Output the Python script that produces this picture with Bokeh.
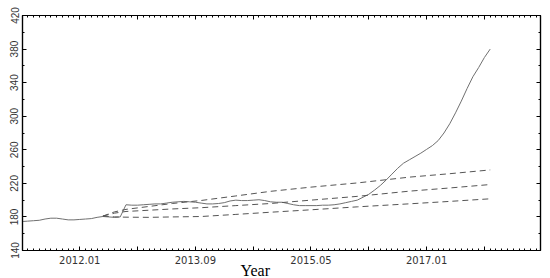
from bokeh.plotting import figure
from bokeh.models import Range1d, FixedTicker, LinearAxis, Title
from bokeh.embed import file_html
from bokeh.resources import INLINE

# month index: 0 = 2011.01
months = list(range(2, 84))
price = [174.5, 175, 175.5, 176, 177.5, 178.5, 178.5, 177.5, 176.5, 176.5,
         177, 177.5, 178, 179.5, 180.5, 180, 179.5, 180, 194.5, 194,
         194, 194.5, 195, 195.5, 195.5, 196.5, 197.5, 198, 198.5, 198,
         197.5, 196.5, 195.5, 195.5, 196, 197, 199, 200, 199.5, 199.5,
         200, 200.5, 199.5, 198, 197.5, 197.5, 196, 194.5, 193.5, 193.5,
         193.5, 193.5, 194, 194, 194.5, 195.5, 197, 198.5, 200, 203.5,
         207, 212, 217.5, 224, 231, 238, 244, 248, 252, 256,
         260.5, 265, 271, 280, 291, 304, 318, 333, 347, 358,
         370, 380]

fc_months = [16, 18, 20, 24, 28, 33, 39, 45, 52, 60, 69, 76, 83]
fc_upper = [181, 186, 189, 192.5, 196, 199.6, 205, 210.5, 215.5, 220.5, 227.4, 231.5, 236]
fc_mid = [181, 184.5, 186.5, 188, 189.5, 191, 193.5, 196, 200, 204.5, 210.7, 214.5, 218.6]
fc_lower = [181, 180, 179.7, 179.5, 180, 180.5, 183, 185.6, 188.5, 192, 195.6, 198.5, 201.6]

x_major = [2, 12, 22, 32, 42, 52, 62, 72, 82]
x_labels = {12: "2012.01", 32: "2013.09", 52: "2015.05", 72: "2017.01"}
y_major = [140, 180, 220, 260, 300, 340, 380, 420]

p = figure(width=550, height=278, output_backend="svg", toolbar_location=None,
           x_range=Range1d(2.1, 91.7), y_range=Range1d(140, 420),
           min_border_left=22, min_border_right=10, min_border_top=15, min_border_bottom=28,
           x_axis_location=None, y_axis_location=None)
p.background_fill_color = "white"
p.border_fill_color = "white"
p.outline_line_color = "black"
p.outline_line_width = 1.2
p.xgrid.visible = False
p.ygrid.visible = False

xt = FixedTicker(ticks=x_major, minor_ticks=list(range(2, 92)))
yt = FixedTicker(ticks=y_major, minor_ticks=list(range(140, 421, 20)))
overrides = {m: x_labels.get(m, "") for m in x_major}

def style(ax, labels):
    ax.axis_line_color = "black"
    ax.axis_line_width = 1.2
    ax.major_tick_in = 4
    ax.major_tick_out = 0
    ax.minor_tick_in = 2
    ax.minor_tick_out = 0
    ax.major_tick_line_color = "black"
    ax.minor_tick_line_color = "black"
    if not labels:
        ax.major_label_text_font_size = "0px"
        ax.major_label_standoff = 0

xb = LinearAxis(ticker=xt, major_label_overrides=overrides)
style(xb, True)
xb.major_label_text_font = "DejaVu Sans"
xb.major_label_text_font_size = "10px"
xb.major_label_text_color = "#333333"
xb.major_label_standoff = 5
p.add_layout(xb, "below")

xa = LinearAxis(ticker=xt, major_label_overrides={m: "" for m in x_major})
style(xa, False)
p.add_layout(xa, "above")

yl = LinearAxis(ticker=yt)
style(yl, True)
yl.major_label_orientation = "vertical"
yl.major_label_text_font = "Liberation Sans"
yl.major_label_text_font_size = "10px"
yl.major_label_text_color = "#333333"
yl.major_label_standoff = 4
p.add_layout(yl, "left")

yr = LinearAxis(ticker=yt, major_label_overrides={v: "" for v in y_major})
style(yr, False)
p.add_layout(yr, "right")

p.line(months, price, line_color="#707070", line_width=1)
for arr in (fc_upper, fc_mid, fc_lower):
    p.line(fc_months, arr, line_color="#555555", line_width=1, line_dash="6 4")

year_title = Title(text="Year", align="left", offset=218, standoff=-14,
                   text_font="Liberation Serif", text_font_size="16px",
                   text_font_style="normal", text_color="black")
p.add_layout(year_title, "below")

open("out.html", "w").write(file_html(p, INLINE))
